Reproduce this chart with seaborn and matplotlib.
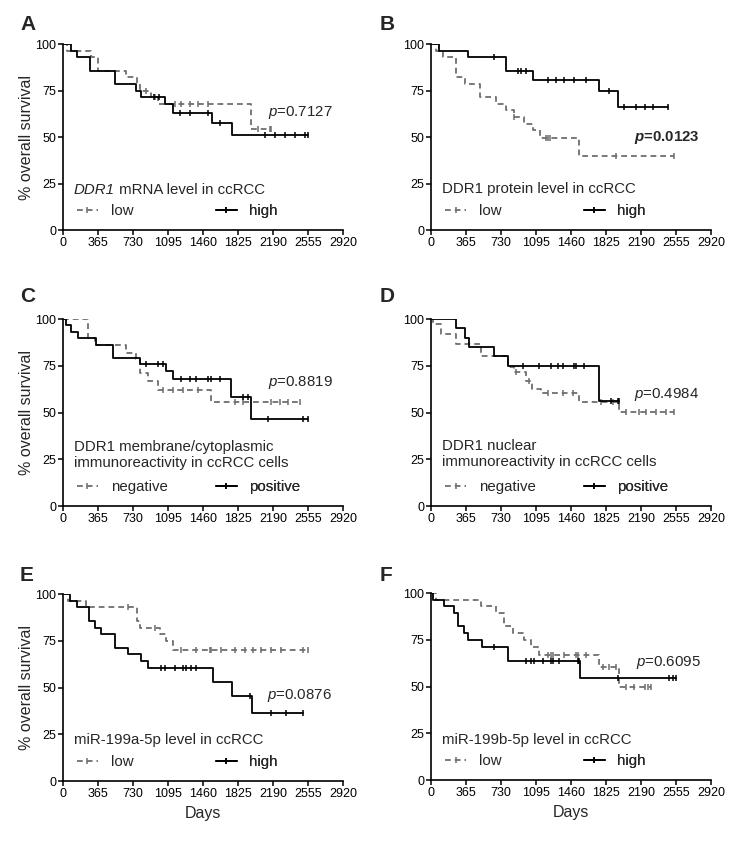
import numpy as np
import matplotlib
matplotlib.use("Agg")
import matplotlib.pyplot as plt
import seaborn as sns
from matplotlib.lines import Line2D

# ---- data (days, % survival) ----
# A: DDR1 mRNA
a_low_t = [0, 45, 295, 365, 660, 770, 800, 920, 990, 1957, 2170]
a_low_s = [100, 96.4, 92.9, 85.7, 82.1, 78.6, 75.0, 71.4, 68.0, 54.5, 54.5]
a_low_c = [870, 960, 1165, 1234, 1321, 1408, 1512, 2034, 2156, 2170]
a_high_t = [0, 87, 146, 278, 539, 758, 817, 1067, 1147, 1554, 1763, 2555]
a_high_s = [100, 96.4, 92.9, 85.7, 78.6, 75.0, 71.4, 67.9, 63.1, 57.4, 51.0, 51.0]
a_high_c = [950, 1000, 1217, 1321, 1512, 1634, 2104, 2209, 2313, 2417, 2520, 2555]

# B: DDR1 protein
b_low_t = [0, 52, 130, 258, 356, 512, 678, 782, 862, 965, 1060, 1139, 1540, 2538]
b_low_s = [100, 96.4, 92.9, 82.1, 78.6, 71.4, 67.9, 64.3, 60.7, 57.1, 53.6, 49.5, 39.6, 39.6]
b_low_c = [870, 1200, 1220, 1240, 1930, 2538]
b_high_t = [0, 80, 382, 782, 1067, 1749, 1954, 2468]
b_high_s = [100, 96.4, 92.9, 85.7, 80.9, 74.5, 66.2, 66.2]
b_high_c = [661, 904, 939, 991, 1217, 1304, 1391, 1495, 1617, 1853, 2017, 2139, 2226, 2313, 2468]

# C: membrane/cytoplasmic
c_neg_t = [0, 261, 330, 661, 765, 800, 887, 991, 1547, 2469]
c_neg_s = [100, 89.7, 86.2, 82.1, 78.6, 71.4, 67.0, 62.3, 55.9, 55.9]
c_neg_c = [1043, 1147, 1252, 1408, 1790, 1877, 2173, 2260, 2347, 2469]
c_pos_t = [0, 35, 87, 157, 348, 522, 800, 1078, 1147, 1756, 1957, 2555]
c_pos_s = [100, 96.6, 93.1, 89.7, 86.2, 79.3, 75.9, 72.4, 68.0, 58.3, 46.7, 46.7]
c_pos_c = [870, 991, 1043, 1234, 1321, 1391, 1512, 1547, 1634, 1877, 1929, 2139, 2503, 2555]

# D: nuclear
d_neg_t = [0, 24, 104, 261, 522, 800, 870, 991, 1052, 1147, 1547, 1957, 2538]
d_neg_s = [100, 97.3, 91.9, 86.5, 80.4, 74.2, 71.6, 67.0, 62.6, 60.4, 55.4, 50.1, 50.1]
d_neg_c = [887, 1026, 1217, 1373, 1478, 1773, 1895, 2034, 2173, 2243, 2347, 2451, 2538]
d_pos_t = [0, 261, 356, 400, 661, 800, 1749, 1957]
d_pos_s = [100, 95.0, 90.0, 85.0, 80.0, 75.0, 56.3, 56.3]
d_pos_c = [956, 1130, 1252, 1321, 1373, 1495, 1512, 1599, 1877, 1947, 1957]

# E: miR-199a-5p
e_low_t = [0, 50, 240, 770, 800, 1008, 1078, 1147, 2555]
e_low_s = [100, 96.4, 92.9, 85.7, 82.1, 78.6, 75.0, 70.0, 70.0]
e_low_c = [678, 960, 1234, 1391, 1530, 1547, 1651, 1791, 1895, 1982, 2069, 2173, 2278, 2503, 2555]
e_high_t = [0, 70, 146, 268, 330, 400, 539, 678, 810, 887, 1565, 1763, 1970, 2503]
e_high_s = [100, 96.4, 92.9, 85.7, 82.1, 78.6, 71.4, 67.9, 64.3, 60.7, 53.0, 45.4, 36.3, 36.3]
e_high_c = [1026, 1060, 1165, 1252, 1287, 1339, 1391, 1947, 2173, 2330, 2503]

# F: miR-199b-5p
f_low_t = [0, 52, 521, 678, 765, 852, 974, 1043, 1130, 1756, 1957, 2295]
f_low_s = [100, 96.4, 92.9, 89.3, 82.1, 78.6, 75.0, 71.4, 67.0, 60.2, 50.0, 50.0]
f_low_c = [1217, 1252, 1269, 1391, 1512, 1530, 1617, 1791, 1860, 1930, 2034, 2121, 2226, 2260, 2295]
f_high_t = [0, 24, 139, 243, 278, 348, 382, 530, 800, 1554, 2555]
f_high_s = [100, 96.4, 92.9, 89.3, 82.1, 78.6, 75.0, 71.4, 63.6, 54.5, 54.5]
f_high_c = [661, 991, 1043, 1078, 1165, 1252, 1269, 1339, 1530, 1547, 1947, 2486, 2520, 2555]

x_ticks = [0, 365, 730, 1095, 1460, 1825, 2190, 2555, 2920]
y_ticks = [0, 25, 50, 75, 100]

sns.set_style("ticks")
plt.rcParams['font.family'] = ['Liberation Sans', 'DejaVu Sans']
plt.rcParams['mathtext.fontset'] = 'custom'
plt.rcParams['mathtext.rm'] = 'Liberation Sans'
plt.rcParams['mathtext.it'] = 'Liberation Sans:italic'
plt.rcParams['mathtext.bf'] = 'Liberation Sans:italic:bold'

GREY = "#6e6e6e"
DASH = (0, (3.2, 2.2))
FS = 10.8

panels = [
    dict(letter="A", rect=[0.0849, 0.7268, 0.3774, 0.2209], lpos=(0.027, 0.982),
         curves=[(a_low_t, a_low_s, a_low_c), (a_high_t, a_high_s, a_high_c)],
         groups=["low", "high"], gene="DDR1", label=" mRNA level in ccRCC",
         ly=0.215, p="$\\it{p}$=0.7127", pxy=(0.732, 0.634), bold=False),
    dict(letter="B", rect=[0.5809, 0.7268, 0.3774, 0.2209], lpos=(0.511, 0.982),
         curves=[(b_low_t, b_low_s, b_low_c), (b_high_t, b_high_s, b_high_c)],
         groups=["low", "high"], gene=None, label="DDR1 protein level in ccRCC",
         ly=0.222, p="$\\mathbf{p}$=0.0123", pxy=(0.725, 0.50), bold=True),
    dict(letter="C", rect=[0.0849, 0.399, 0.3774, 0.2221], lpos=(0.027, 0.659),
         curves=[(c_neg_t, c_neg_s, c_neg_c), (c_pos_t, c_pos_s, c_pos_c)],
         groups=["negative", "positive"], gene=None,
         label="DDR1 membrane/cytoplasmic\nimmunoreactivity in ccRCC cells",
         ly=0.272, p="$\\it{p}$=0.8819", pxy=(0.732, 0.658), bold=False),
    dict(letter="D", rect=[0.5809, 0.399, 0.3774, 0.2221], lpos=(0.511, 0.659),
         curves=[(d_neg_t, d_neg_s, d_neg_c), (d_pos_t, d_pos_s, d_pos_c)],
         groups=["negative", "positive"], gene=None,
         label="DDR1 nuclear\nimmunoreactivity in ccRCC cells",
         ly=0.277, p="$\\it{p}$=0.4984", pxy=(0.725, 0.594), bold=False),
    dict(letter="E", rect=[0.0849, 0.0724, 0.3774, 0.2221], lpos=(0.027, 0.328),
         curves=[(e_low_t, e_low_s, e_low_c), (e_high_t, e_high_s, e_high_c)],
         groups=["low", "high"], gene=None, label="miR-199a-5p level in ccRCC",
         ly=0.22, p="$\\it{p}$=0.0876", pxy=(0.729, 0.46), bold=False),
    dict(letter="F", rect=[0.5809, 0.0736, 0.3774, 0.2221], lpos=(0.511, 0.328),
         curves=[(f_low_t, f_low_s, f_low_c), (f_high_t, f_high_s, f_high_c)],
         groups=["low", "high"], gene=None, label="miR-199b-5p level in ccRCC",
         ly=0.214, p="$\\it{p}$=0.6095", pxy=(0.732, 0.631), bold=False),
]


def surv_at(t, s, c):
    idx = np.searchsorted(t, c, side="right") - 1
    return np.asarray(s)[idx]


fig = plt.figure(figsize=(7.42, 8.42), dpi=100)

for i, pan in enumerate(panels):
    ax = fig.add_axes(pan["rect"])
    styles = [dict(color=GREY, linestyle=DASH), dict(color="black", linestyle="-")]
    handles = []
    for (t, s, c), st in zip(pan["curves"], styles):
        sns.lineplot(x=t, y=s, drawstyle="steps-post", estimator=None,
                     lw=1.3, ax=ax, **st)
        ax.plot(c, surv_at(t, s, c), ls="none", marker="|", ms=4.5, mew=1.1,
                color=st["color"])
        handles.append(Line2D([], [], lw=1.3, marker="|", ms=4.5, mew=1.1, **st))

    ax.set_xlim(0, 2920)
    ax.set_ylim(0, 100)
    ax.set_xticks(x_ticks)
    ax.set_yticks(y_ticks)
    ax.tick_params(labelsize=9, width=1.1, length=3.5, pad=1.5, colors="black")
    for side in ["left", "bottom"]:
        ax.spines[side].set_linewidth(1.2)
        ax.spines[side].set_color("black")
    sns.despine(ax=ax)

    ax.set_ylabel("% overall survival" if i % 2 == 0 else "", fontsize=11.5, labelpad=0.5)
    ax.set_xlabel("Days" if i >= 4 else "", fontsize=11.5, labelpad=4)

    if pan["gene"]:
        t1 = ax.text(0.038, pan["ly"], pan["gene"], transform=ax.transAxes,
                     fontsize=FS, va="center", ha="left", style="italic")
        ax.annotate(pan["label"], xy=(1, 0), xycoords=t1, va="bottom",
                    ha="left", fontsize=FS)
    else:
        ax.text(0.038, pan["ly"], pan["label"], transform=ax.transAxes, fontsize=FS,
                va="center", ha="left", linespacing=1.15)
    ax.text(pan["pxy"][0], pan["pxy"][1], pan["p"], transform=ax.transAxes,
            fontsize=FS, va="center", ha="left",
            fontweight="bold" if pan["bold"] else "normal")

    # two legend entries, placed in fixed columns like the original
    for h, g, xx in zip(handles, pan["groups"], [0.05, 0.545]):
        leg = ax.legend([h], [g], loc="center left", bbox_to_anchor=(xx, 0.10),
                        frameon=False, fontsize=FS, handlelength=1.4,
                        handletextpad=0.85, borderpad=0, borderaxespad=0,
                        numpoints=1)
        ax.add_artist(leg)

    fig.text(pan["lpos"][0], pan["lpos"][1], pan["letter"], fontsize=15,
             fontweight="bold", va="top", ha="left")

fig.savefig("out.png", dpi=100)
